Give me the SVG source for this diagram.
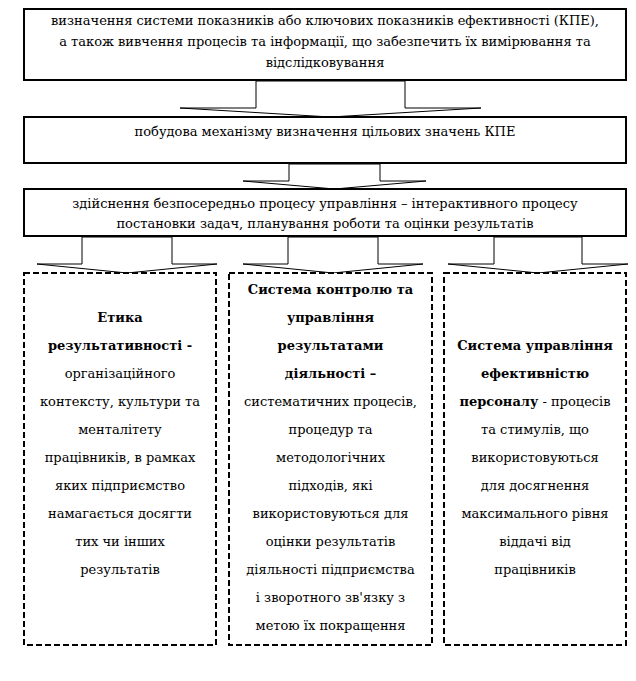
<svg xmlns="http://www.w3.org/2000/svg" width="636" height="681" viewBox="0 0 636 681">
<style>
  .box { fill: #ffffff; stroke: #000000; stroke-width: 2; }
  .dbox { fill: #ffffff; stroke: #000000; stroke-width: 2; stroke-dasharray: 6 3; }
  .arr { fill: #ffffff; stroke: #000000; stroke-width: 1; }
  text { font-family: "DejaVu Serif", "Liberation Serif", serif; font-size: 13px; fill: #000000; text-anchor: middle; }
  .b { font-weight: bold; }
</style>
<rect width="636" height="681" fill="#ffffff"/>
<g id="connectors">
  <polygon class="arr" points="256,81 256,108 180,108 330.5,117 481,108 405,108 405,81"/>
  <polygon class="arr" points="289,164 289,181 243,181 334.5,189 426,181 380,181 380,164"/>
  <polygon class="arr" points="82,237 82,264 37,264 127,273 217,264 172,264 172,237"/>
  <polygon class="arr" points="288,237 288,264 243,264 333,273 423,264 378,264 378,237"/>
  <polygon class="arr" points="494,237 494,264 448,264 538,273 628,264 582,264 582,237"/>
</g>
<g id="node1">
  <rect class="box" x="24" y="9" width="602" height="71"/>
  <text x="325" y="25">визначення системи показників або ключових показників ефективності (КПЕ),</text>
  <text x="325" y="46">а також вивчення процесів та інформації, що забезпечить їх вимірювання та</text>
  <text x="325" y="67">відслідковування</text>
</g>
<g id="node2">
  <rect class="box" x="24" y="117" width="602" height="46"/>
  <text x="325" y="136">побудова механізму визначення цільових значень КПЕ</text>
</g>
<g id="node3">
  <rect class="box" x="24" y="189" width="602" height="47"/>
  <text x="325" y="208">здійснення безпосередньо процесу управління – інтерактивного процесу</text>
  <text x="325" y="228">постановки задач, планування роботи та оцінки результатів</text>
</g>
<g id="nodeA">
  <rect class="dbox" x="24" y="273" width="192" height="372"/>
  <text x="120" y="322" class="b">Етика</text>
  <text x="120" y="350" class="b">результативності -</text>
  <text x="120" y="378">організаційного</text>
  <text x="120" y="406">контексту, культури та</text>
  <text x="120" y="434">менталітету</text>
  <text x="120" y="462">працівників, в рамках</text>
  <text x="120" y="490">яких підприємство</text>
  <text x="120" y="518">намагається досягти</text>
  <text x="120" y="546">тих чи інших</text>
  <text x="120" y="574">результатів</text>
</g>
<g id="nodeB">
  <rect class="dbox" x="229" y="273" width="203" height="372"/>
  <text x="330.5" y="294" class="b">Система контролю та</text>
  <text x="330.5" y="322" class="b">управління</text>
  <text x="330.5" y="350" class="b">результатами</text>
  <text x="330.5" y="378" class="b">діяльності –</text>
  <text x="330.5" y="406">систематичних процесів,</text>
  <text x="330.5" y="434">процедур та</text>
  <text x="330.5" y="462">методологічних</text>
  <text x="330.5" y="490">підходів, які</text>
  <text x="330.5" y="518">використовуються для</text>
  <text x="330.5" y="546">оцінки результатів</text>
  <text x="330.5" y="574">діяльності підприємства</text>
  <text x="330.5" y="602">і зворотного зв'язку з</text>
  <text x="330.5" y="630">метою їх покращення</text>
</g>
<g id="nodeC">
  <rect class="dbox" x="444" y="273" width="182" height="372"/>
  <text x="535" y="350" class="b">Система управління</text>
  <text x="535" y="378" class="b">ефективністю</text>
  <text x="535" y="406"><tspan class="b">персоналу</tspan> - процесів</text>
  <text x="535" y="434">та стимулів, що</text>
  <text x="535" y="462">використовуються</text>
  <text x="535" y="490">для досягнення</text>
  <text x="535" y="518">максимального рівня</text>
  <text x="535" y="546">віддачі від</text>
  <text x="535" y="574">працівників</text>
</g>
</svg>
